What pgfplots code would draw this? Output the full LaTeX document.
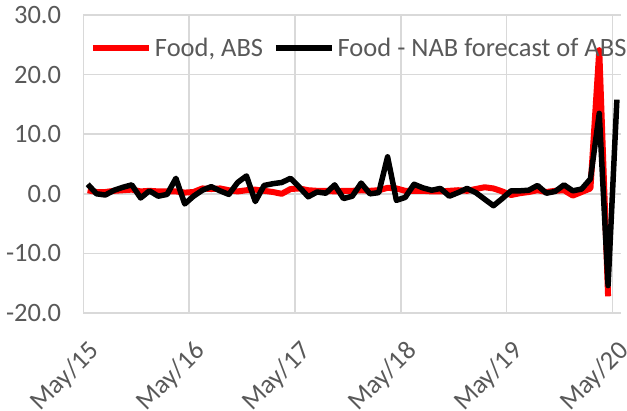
\documentclass[border=0pt]{standalone}
\usepackage{pgfplots}
\pgfplotsset{compat=1.18}
\usepackage{fontspec}
\setmainfont{Carlito}
\definecolor{txt}{RGB}{89,89,89}
\definecolor{gridc}{RGB}{217,217,217}
\definecolor{absred}{RGB}{255,0,0}
\begin{document}
\begin{tikzpicture}[x=1bp,y=1bp]
\useasboundingbox (0,0) rectangle (627,410);
\begin{axis}[
  at={(83.3bp,97bp)}, anchor=south west,
  scale only axis, width=538bp, height=298bp,
  xmin=0, xmax=61, ymin=-20, ymax=30,
  axis line style={draw=none},
  major tick length=0pt,
  xtick={0,12,24,36,48,60},
  xticklabels={May/15,May/16,May/17,May/18,May/19,May/20},
  ytick={-20,-10,0,10,20,30},
  yticklabel={\pgfmathprintnumber[fixed,fixed zerofill,precision=1]{\tick}},
  /pgf/number format/assume math mode=true,
  grid=major,
  major grid style={draw=gridc, line width=1.5bp},
  tick label style={font=\fontsize{26.5bp}{30bp}\selectfont, text=txt},
  xticklabel style={xshift=4bp, yshift=-26bp, rotate=45, anchor=north east, inner sep=0pt},
  yticklabel style={anchor=east, inner sep=0pt, xshift=-22bp},
  clip=false,
  legend columns=-1,
  legend style={draw=none, fill=none, at={(0.012,0.89)}, anchor=west,
    inner sep=0pt, font=\fontsize{26.5bp}{30bp}\selectfont, text=txt,
    /tikz/every odd column/.style={column sep=3bp},
    /tikz/every even column/.style={column sep=10bp},
    nodes={inner sep=0pt}},
  legend image code/.code={\draw[#1, line cap=butt] (0bp,0bp) -- (56bp,0bp);},
]
\addplot[absred, line width=6bp, line join=round] coordinates {
(0.5,0.6)(1.5,0.3)(2.5,0.3)(3.5,0.5)(4.5,0.6)(5.5,0.7)(6.5,0.4)(7.5,0.5)(8.5,0.4)(9.5,0.4)
(10.5,0.4)(11.5,0.2)(12.5,0.3)(13.5,0.9)(14.5,0.8)(15.5,0.9)(16.5,0.6)(17.5,0.4)(18.5,0.6)(19.5,0.7)
(20.5,0.5)(21.5,0.3)(22.5,0.0)(23.5,0.8)(24.5,0.9)(25.5,0.6)(26.5,0.5)(27.5,0.5)(28.5,0.4)(29.5,0.5)
(30.5,0.5)(31.5,0.6)(32.5,0.5)(33.5,0.6)(34.5,1.0)(35.5,0.9)(36.5,0.5)(37.5,0.5)(38.5,0.5)(39.5,0.4)
(40.5,0.4)(41.5,0.5)(42.5,0.6)(43.5,0.5)(44.5,0.8)(45.5,1.1)(46.5,0.9)(47.5,0.4)(48.5,-0.2)(49.5,0.1)
(50.5,0.3)(51.5,0.6)(52.5,0.3)(53.5,0.5)(54.5,0.6)(55.5,-0.3)(56.5,0.3)(57.5,0.9)(58.5,24.1)(59.5,-17.2)
};
\addlegendentry{Food, ABS}
\addplot[black, line width=5.5bp, line join=round] coordinates {
(0.5,1.6)(1.5,0.0)(2.5,-0.2)(3.5,0.6)(4.5,1.1)(5.5,1.5)(6.5,-0.7)(7.5,0.5)(8.5,-0.4)(9.5,-0.1)
(10.5,2.6)(11.5,-1.7)(12.5,-0.4)(13.5,0.6)(14.5,1.2)(15.5,0.5)(16.5,-0.1)(17.5,1.9)(18.5,3.0)(19.5,-1.3)
(20.5,1.4)(21.5,1.7)(22.5,1.9)(23.5,2.6)(24.5,1.1)(25.5,-0.5)(26.5,0.3)(27.5,0.1)(28.5,1.5)(29.5,-0.8)
(30.5,-0.4)(31.5,1.8)(32.5,0.0)(33.5,0.2)(34.5,6.2)(35.5,-1.1)(36.5,-0.6)(37.5,1.6)(38.5,1.0)(39.5,0.6)
(40.5,0.9)(41.5,-0.4)(42.5,0.2)(43.5,0.9)(44.5,0.2)(45.5,-0.9)(46.5,-2.0)(47.5,-0.8)(48.5,0.5)(49.5,0.5)
(50.5,0.6)(51.5,1.4)(52.5,0.1)(53.5,0.4)(54.5,1.5)(55.5,0.5)(56.5,0.8)(57.5,2.5)(58.5,13.5)(59.5,-15.4)
(60.5,15.8)
};
\addlegendentry{Food - NAB forecast of ABS}
\end{axis}
\end{tikzpicture}
\end{document}
